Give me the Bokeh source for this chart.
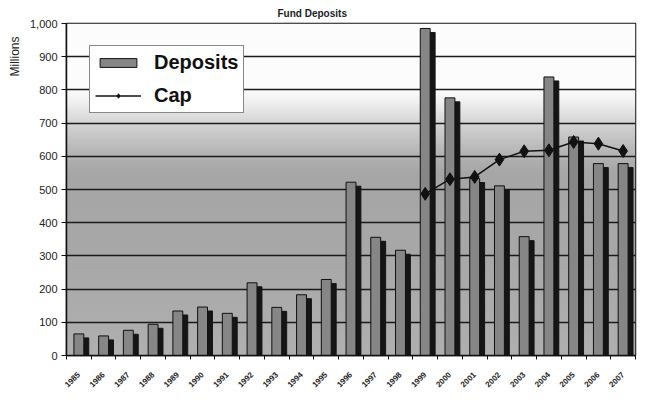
import numpy as np
from bokeh.plotting import figure
from bokeh.models import (FixedTicker, NumeralTickFormatter, Range1d, Legend,
                          LegendItem, Title, ColumnDataSource)
from bokeh.embed import file_html
from bokeh.resources import INLINE

# ---- data ----
years = ["1985", "1986", "1987", "1988", "1989", "1990", "1991", "1992",
         "1993", "1994", "1995", "1996", "1997", "1998", "1999", "2000",
         "2001", "2002", "2003", "2004", "2005", "2006", "2007"]
deposits = [65, 59, 76, 94, 134, 146, 127, 219, 145, 183, 229, 522, 356,
            317, 985, 776, 533, 511, 358, 839, 658, 578, 578]
cap_years = ["1999", "2000", "2001", "2002", "2003", "2004", "2005", "2006", "2007"]
cap = [487, 531, 538, 590, 615, 618, 643, 638, 616]

n = len(years)
xc = [i + 0.5 for i in range(n)]
cap_x = [years.index(y) + 0.5 for y in cap_years]

FONT = "Liberation Sans"

p = figure(width=637, height=397, output_backend="svg", toolbar_location=None,
           x_range=Range1d(0, n), y_range=Range1d(0, 1000),
           min_border_left=62, min_border_right=2, min_border_top=21,
           min_border_bottom=42)
p.background_fill_color = "white"
p.border_fill_color = "white"

# background gradient (style only)
rows = 200
ys = np.linspace(0, 1000, rows)
grey = np.interp(ys, [0, 300, 550, 620, 700, 760, 800, 1000],
                 [176, 168, 166, 184, 212, 238, 252, 253]).astype(np.uint32)
img = np.empty((rows, 1), dtype=np.uint32)
img[:, 0] = (255 << 24) | (grey << 16) | (grey << 8) | grey
bg = p.image_rgba(image=[img], x=0, y=0, dw=n, dh=1000)
bg.level = "image"

# bars: shadow then face
src = ColumnDataSource(dict(x=xc, xs=[x + 0.2 for x in xc], top=deposits,
                            stop=[d - 12 for d in deposits], labels=years))
p.vbar(x="xs", top="stop", bottom=0, width=0.4, source=src,
       fill_color="#151515", line_color="#151515")
bars = p.vbar(x="x", top="top", bottom=0, width=0.4, source=src,
              fill_color="#868686", line_color="#111111", line_width=1)

ln = p.line(cap_x, cap, line_color="#111111", line_width=1.5)
mk = p.scatter(cap_x, cap, marker="diamond", size=13, fill_color="#111111",
               line_color="#111111")

# axes
p.xaxis.ticker = FixedTicker(ticks=xc, minor_ticks=list(range(n + 1)))
p.xaxis.major_label_overrides = {x: y for x, y in zip(xc, years)}
p.xaxis.major_label_orientation = np.pi / 4
p.xaxis.major_tick_out = 0
p.xaxis.major_tick_in = 0
p.xaxis.minor_tick_out = 4
p.xaxis.minor_tick_in = 0
p.xaxis.minor_tick_line_color = "#111111"
p.xaxis.major_label_standoff = 14
p.xaxis.major_label_text_font = FONT
p.xaxis.major_label_text_font_style = "bold"
p.xaxis.major_label_text_font_size = "8px"
p.xaxis.major_label_text_color = "#222222"
p.xaxis.axis_line_color = "#111111"
p.xaxis.axis_line_width = 1.5

p.yaxis.ticker = FixedTicker(ticks=list(range(0, 1001, 100)), minor_ticks=[])
p.yaxis.formatter = NumeralTickFormatter(format="0,0")
p.yaxis.major_tick_out = 5
p.yaxis.major_tick_in = 0
p.yaxis.major_tick_line_color = "#111111"
p.yaxis.major_label_text_font = FONT
p.yaxis.major_label_text_font_size = "11px"
p.yaxis.major_label_text_color = "#222222"
p.yaxis.axis_line_color = "#111111"
p.yaxis.axis_line_width = 1.5
p.yaxis.major_label_standoff = 4

p.xgrid.visible = False
p.ygrid.ticker = FixedTicker(ticks=list(range(0, 1001, 100)))
p.ygrid.grid_line_color = "#1a1a1a"
p.ygrid.grid_line_width = 1.5

p.outline_line_color = "#111111"
p.outline_line_width = 1.5

# titles
p.title.text = "Fund Deposits"
p.title.align = "left"
p.title.offset = 211
p.title.text_font = FONT
p.title.text_font_size = "10px"
p.title.text_font_style = "bold"
p.title.text_color = "#222222"

yl = Title(text="Millions", align="right", offset=13, text_font=FONT,
           text_font_size="12px", text_font_style="normal", text_color="#222222")
p.add_layout(yl, "left")

legend = Legend(items=[LegendItem(label="Deposits", renderers=[bars]),
                       LegendItem(label="Cap", renderers=[ln, mk])],
                location=(23, 242))
legend.margin = 0
legend.label_text_font = FONT
legend.label_text_font_style = "bold"
legend.label_text_font_size = "20px"
legend.label_text_color = "#111111"
legend.glyph_width = 46
legend.glyph_height = 11
legend.label_height = 20
legend.label_standoff = 13
legend.spacing = 10
legend.padding = 5
legend.border_line_color = "#111111"
legend.border_line_width = 1.5
legend.background_fill_color = "white"
legend.background_fill_alpha = 1
p.add_layout(legend, "center")

open("out.html", "w").write(file_html(p, INLINE))
